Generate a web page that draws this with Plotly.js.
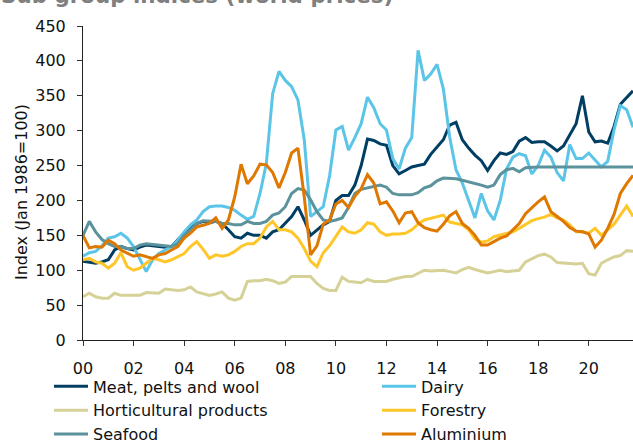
<!DOCTYPE html>
<html>
<head>
<meta charset="utf-8">
<script src="https://cdn.plot.ly/plotly-3.0.1.min.js"></script>
<style>html,body{margin:0;padding:0;background:#fff;}#chart{width:633px;height:443px;}</style>
</head>
<body>
<div id="chart"></div>
<script>
// Quarterly observation dates, Jan 2000 .. Oct 2021 (decimal years)
const quarters = Array.from({length: 88}, (_, i) => 2000 + i / 4);

const tickYears = [2000, 2002, 2004, 2006, 2008, 2010, 2012, 2014, 2016, 2018, 2020];
const tickLabels = ["00", "02", "04", "06", "08", "10", "12", "14", "16", "18", "20"];

const meat = [
  113,112,110,112, 115,129,134,131, 129,133,136,135, 134,133,134,143,
  153,160,167,170, 168,170,167,158, 148,146,153,150, 150,146,155,158,
  167,177,191,172, 150,158,165,170, 200,207,207,222, 250,288,286,281,
  279,250,238,243, 248,250,252,266, 276,287,308,312, 287,275,265,257,
  243,257,268,266, 270,285,290,283, 284,284,278,271, 278,295,310,350,
  298,284,285,282, 306,338,347,357
];
const dairy = [
  120,125,127,135, 146,148,153,146, 134,115,98,115, 124,129,134,143,
  155,165,172,184, 191,192,192,190, 186,179,173,177, 210,253,353,385,
  372,363,344,287, 177,184,191,235, 301,306,272,290, 310,348,333,310,
  301,260,245,275, 290,415,372,381, 395,360,291,244, 225,200,175,210,
  185,172,200,245, 262,267,264,238, 250,272,262,240, 228,280,260,260,
  268,258,248,256, 301,336,330,305
];
const horticulture = [
  62,67,62,60, 60,67,64,64, 64,64,68,67, 67,73,72,71,
  72,76,69,67, 64,66,69,60, 57,60,84,85, 85,87,85,81,
  83,91,91,92, 91,81,74,71, 71,90,84,83, 82,87,84,84,
  84,87,89,91, 91,95,100,99, 99,100,98,96, 101,104,101,98,
  96,98,100,98, 99,100,112,117, 121,123,119,111, 110,110,109,110,
  95,93,110,115, 119,121,128,127
];
const forestry = [
  115,117,112,110, 103,110,125,105, 100,103,110,117, 115,112,115,119,
  124,134,141,130, 117,122,120,122, 127,134,138,138, 146,162,170,158,
  158,155,146,131, 113,105,125,135, 148,162,155,153, 158,168,166,155,
  150,152,152,153, 158,166,172,174, 176,179,169,167, 165,158,145,140,
  142,148,150,152, 155,160,166,171, 174,176,180,175, 172,165,155,155,
  153,160,150,158, 166,179,192,177
];
const seafood = [
  150,170,155,144, 138,134,134,131, 131,136,138,137, 137,136,134,138,
  150,158,167,171, 170,170,167,167, 165,165,170,167, 167,170,179,182,
  191,210,217,215, 201,184,172,170, 172,175,190,210, 216,218,220,222,
  219,210,208,208, 208,211,218,221, 228,232,232,231, 229,227,224,222,
  219,222,237,244, 246,241,247,248, 248,248,248,248, 248,248,248,248,
  248,248,248,248, 248,248,248,248
];
const aluminium = [
  150,132,134,133, 143,138,129,124, 120,122,119,117, 122,124,129,134,
  146,153,162,165, 167,175,160,172, 205,252,224,235, 252,251,240,218,
  240,268,275,205, 122,135,166,172, 195,200,190,206, 217,237,225,195,
  198,185,168,182, 184,168,161,158, 156,166,178,184, 167,160,150,136,
  136,141,146,149, 158,167,181,190, 198,205,184,177, 170,161,156,155,
  152,133,143,160, 180,210,224,236
];

const seriesNames = ["Meat, pelts and wool", "Dairy", "Horticultural products", "Forestry", "Seafood", "Aluminium"];
const seriesColors = ["#003f63", "#5bc5e8", "#d6d197", "#ffc629", "#5b929b", "#df7800"];
const seriesData = [meat, dairy, horticulture, forestry, seafood, aluminium];
const seriesLegend = ["legend", "legend2", "legend", "legend2", "legend", "legend2"];

const FONT = "DejaVu Sans, Verdana, sans-serif";

const traces = seriesData.map((vals, k) => ({
  type: "scatter",
  mode: "lines",
  x: quarters,
  y: vals,
  name: seriesNames[k],
  legend: seriesLegend[k],
  line: {color: seriesColors[k], width: 3},
  hoverinfo: "skip"
}));

const legendBase = {
  orientation: "v",
  xref: "container", yref: "container",
  xanchor: "left", yanchor: "top",
  y: 0.166,
  font: {family: FONT, size: 16, color: "#111"},
  bgcolor: "rgba(0,0,0,0)",
  tracegroupgap: 0,
  itemwidth: 34
};

const layout = {
  width: 633, height: 443,
  margin: {l: 83, r: 0, t: 26, b: 103, pad: 0, autoexpand: false},
  paper_bgcolor: "#fff", plot_bgcolor: "#fff",
  showlegend: true,
  font: {family: FONT, size: 16, color: "#111"},
  xaxis: {
    range: [2000, 2021.75],
    tickmode: "array", tickvals: tickYears, ticktext: tickLabels,
    ticks: "outside", ticklen: 5, tickwidth: 1, tickcolor: "#333",
    showline: true, linecolor: "#222", linewidth: 1,
    showgrid: false, zeroline: false, automargin: false,
    ticklabelstandoff: 9,
    tickfont: {family: FONT, size: 16, color: "#111"}
  },
  yaxis: {
    range: [0, 450],
    tickvals: [0, 50, 100, 150, 200, 250, 300, 350, 400, 450],
    ticks: "outside", ticklen: 5, tickwidth: 1, tickcolor: "#333",
    showline: true, linecolor: "#222", linewidth: 1,
    showgrid: false, zeroline: false, automargin: false,
    ticklabelstandoff: 8,
    tickfont: {family: FONT, size: 16, color: "#111"}
  },
  legend: Object.assign({}, legendBase, {x: 49 / 633}),
  legend2: Object.assign({}, legendBase, {x: 377 / 633}),
  annotations: [
    {
      text: "Sub group indices (world prices)",
      xref: "paper", yref: "paper",
      x: -84 / 550, y: 1.05, xanchor: "left", yanchor: "bottom",
      showarrow: false,
      font: {family: FONT, size: 21.4, color: "#7f7f7f", weight: "bold"}
    },
    {
      text: "Index (Jan 1986=100)",
      xref: "paper", yref: "paper",
      x: -62 / 550, y: (340 - 192) / 314, xanchor: "center", yanchor: "middle",
      textangle: -90, showarrow: false,
      font: {family: FONT, size: 16, color: "#111"}
    }
  ]
};

Plotly.newPlot("chart", traces, layout, {staticPlot: true, displayModeBar: false});
</script>
</body>
</html>
